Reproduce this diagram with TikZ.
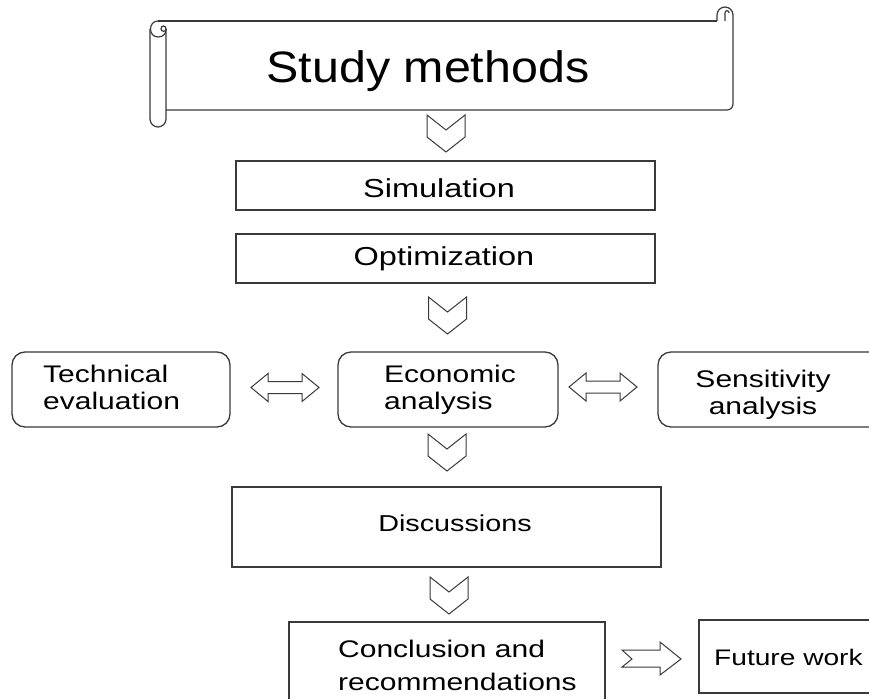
\documentclass[tikz,border=0pt]{standalone}
\usepackage{fontspec}
\setmainfont{Liberation Sans}
\newfontfamily\bodyf[FakeStretch=1.25]{Liberation Sans}
\newfontfamily\titlef[FakeStretch=1.1]{Liberation Sans}
\usetikzlibrary{calc}
\definecolor{lc}{HTML}{3A3A3A}
\begin{document}
\begin{tikzpicture}[x=1pt,y=-1pt,line join=miter,
  box/.style={draw=lc,line width=1.3pt,inner sep=0pt,outer sep=0pt,anchor=north west},
  rbox/.style={box,rounded corners=13pt},
  txt/.style={inner sep=0pt,font=\bodyf\fontsize{24}{27}\selectfont},
  blk/.style={draw=lc,line width=1pt,fill=white},
  scr/.style={draw=lc,line width=1.2pt},
  chev/.pic={\draw[blk] (-19,0) -- (0,15) -- (19,0) -- (19,22) -- (0,37) -- (-19,22) -- cycle;},
  dblarrow/.pic={\draw[blk] (0,0) -- (17,-14) -- (17,-6) -- (51,-6) -- (51,-14) -- (68,0) -- (51,14) -- (51,6) -- (17,6) -- (17,14) -- cycle;},
  notcharrow/.pic={\draw[blk] (0,-9) -- (10,0) -- (0,8) -- (38,8) -- (38,16) -- (59,0) -- (38,-17) -- (38,-9) -- cycle;}]
\useasboundingbox (0,0) rectangle (869,698);
\clip (0,0) rectangle (869,698);
\fill[white] (0,0) rectangle (869,698);

% scroll (title)
\draw[scr] (158,21) -- (717,21);
\draw[scr] (717,21) [rounded corners=8pt] -- (717,7) -- (733,7) [rounded corners=6pt] -- (733,110) [sharp corners] -- (166,110);
\draw[scr] (725,21) -- (725,13) .. controls (725,10) and (729,10) .. (729,13);
\draw[scr] (158,21) .. controls (148,21) and (148,37) .. (158,37) .. controls (163,37) and (166,34) .. (166,29);
\draw[scr] (150,29) [rounded corners=8pt] -- (150,127) -- (166,127) [sharp corners] -- (166,29);
\draw[scr] (166,29) .. controls (166,25) and (161,25) .. (161,29) .. controls (161,32) and (166,32) .. (166,29);
\node[inner sep=0pt,anchor=base,font=\titlef\fontsize{44}{50}\selectfont] (title) at (428,83) {Study methods};

% boxes
\node[box,minimum width=419pt,minimum height=49pt] (sim) at (236,161) {};
\node[box,minimum width=419pt,minimum height=49pt] (opt) at (236,234) {};
\node[rbox,minimum width=218pt,minimum height=75pt] (tech) at (12,352) {};
\node[rbox,minimum width=220pt,minimum height=75pt] (econ) at (338,352) {};
\node[rbox,minimum width=240pt,minimum height=75pt] (sens) at (658,352) {};
\node[box,minimum width=429pt,minimum height=80pt] (disc) at (232,487) {};
\node[box,minimum width=316pt,minimum height=100pt] (conc) at (289,622) {};
\node[box,minimum width=200pt,minimum height=73pt] (fut) at (699,620) {};

% texts
\node[txt,anchor=base,font=\bodyf\fontsize{26}{30}\selectfont] (simt) at (439,197) {Simulation};
\node[txt,anchor=base,font=\bodyf\fontsize{26}{30}\selectfont] (optt) at (444,265) {Optimization};
\node[txt,anchor=north west,align=left] (techt) at (43,365) {Technical\\evaluation};
\node[txt,anchor=north west,align=left] (econt) at (384,365) {Economic\\analysis};
\node[txt,anchor=north,align=center] (senst) at (763,370) {Sensitivity\\analysis};
\node[txt,anchor=base,font=\bodyf\fontsize{23}{27}\selectfont] (disct) at (455,531) {Discussions};
\node[txt,anchor=north west,align=left,font=\bodyf\fontsize{24}{33}\selectfont] (conct) at (338,640) {Conclusion and\\recommendations};
\node[txt,anchor=base west,font=\bodyf\fontsize{22.5}{27}\selectfont] (futt) at (714,665) {Future work};

% block arrows
\path (446,115) pic {chev};
\path (447.5,297) pic {chev};
\path (447,434) pic {chev};
\path (449,577) pic {chev};
\path (251,387.5) pic {dblarrow};
\path (569,387) pic {dblarrow};
\path (622,659) pic {notcharrow};
\end{tikzpicture}
\end{document}
